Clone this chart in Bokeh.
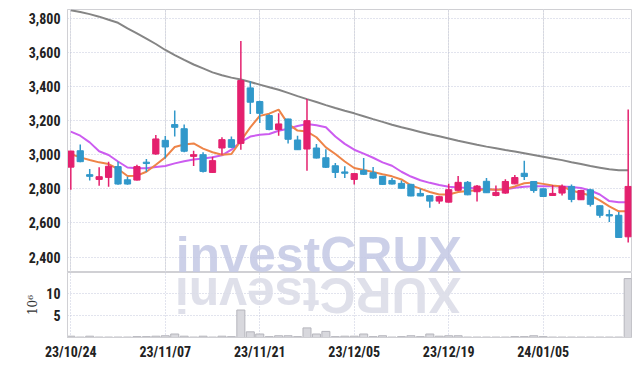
import math
from bokeh.plotting import figure
from bokeh.layouts import column
from bokeh.models import Range1d, FixedTicker, Grid, NumeralTickFormatter, Label, ColumnDataSource
from bokeh.embed import file_html
from bokeh.resources import INLINE

# ---- data ----
tick_idx = [0, 10, 20, 30, 40, 50]
tick_labels = ["23/10/24", "23/11/07", "23/11/21", "23/12/05", "23/12/19", "24/01/05"]

opens = [2927, 3023, 2883, 2855, 2867, 2930, 2853, 2851, 2955, 3004,
         3084, 3176, 3152, 2990, 3000, 2896, 3039, 3088, 3066, 3391,
         3311, 3229, 3147, 3209, 3086, 3033, 3039, 2982, 2935, 2898,
         2855, 2908, 2894, 2873, 2849, 2832, 2826, 2773, 2760, 2728,
         2722, 2791, 2838, 2783, 2844, 2761, 2775, 2829, 2891, 2843,
         2800, 2761, 2775, 2814, 2736, 2794, 2701, 2649, 2645, 2519]
highs = [3023, 3059, 2916, 2926, 2959, 2959, 2871, 2941, 2975, 3115,
         3110, 3258, 3176, 3023, 3014, 2988, 3102, 3106, 3665, 3430,
         3315, 3236, 3242, 3211, 3111, 3326, 3063, 3031, 2951, 2932,
         2889, 2980, 2928, 2875, 2863, 2849, 2830, 2801, 2762, 2756,
         2830, 2875, 2846, 2822, 2863, 2819, 2856, 2881, 2965, 2845,
         2802, 2823, 2825, 2825, 2794, 2800, 2703, 2678, 2664, 3265]
lows = [2795, 2955, 2848, 2818, 2812, 2824, 2824, 2848, 2900, 3000,
        2978, 3106, 3014, 2934, 2896, 2892, 3000, 3039, 3029, 3238,
        3186, 3143, 3111, 3066, 3027, 2906, 2977, 2922, 2863, 2863,
        2826, 2881, 2859, 2822, 2826, 2802, 2756, 2756, 2689, 2713,
        2720, 2789, 2763, 2726, 2775, 2757, 2771, 2827, 2852, 2777,
        2753, 2759, 2761, 2722, 2734, 2697, 2631, 2606, 2513, 2486]
closes = [3021, 2959, 2873, 2871, 2932, 2828, 2828, 2930, 2949, 3092,
          3045, 3160, 3020, 3000, 2902, 2965, 3088, 3043, 3434, 3307,
          3242, 3147, 3180, 3090, 3029, 3199, 2980, 2926, 2896, 2892,
          2889, 2885, 2863, 2826, 2828, 2803, 2758, 2758, 2728, 2754,
          2795, 2838, 2765, 2816, 2777, 2779, 2843, 2866, 2872, 2790,
          2755, 2773, 2814, 2738, 2790, 2709, 2645, 2641, 2515, 2814]
ma_short = [3004, 2984, 2969, 2955, 2945, 2916, 2875, 2877, 2900, 2941,
            2984, 3045, 3060, 3066, 3035, 3014, 3000, 3004, 3082, 3160,
            3227, 3240, 3264, 3180, 3141, 3135, 3102, 3043, 3004, 2960,
            2922, 2910, 2898, 2885, 2873, 2855, 2820, 2801, 2781, 2767,
            2767, 2781, 2787, 2791, 2797, 2794, 2798, 2814, 2833, 2837,
            2829, 2819, 2814, 2790, 2775, 2761, 2732, 2697, 2668, 2668]
ma_mid = [3135, 3111, 3072, 3020, 2998, 2960, 2925, 2920, 2920, 2928,
          2934, 2949, 2962, 2972, 2978, 2985, 2996, 3029, 3075, 3106,
          3117, 3121, 3140, 3152, 3168, 3180, 3172, 3160, 3106, 3063,
          3029, 3006, 2982, 2955, 2935, 2900, 2872, 2850, 2835, 2822,
          2812, 2808, 2806, 2802, 2797, 2795, 2797, 2806, 2812, 2815,
          2815, 2815, 2814, 2810, 2805, 2790, 2767, 2728, 2722, 2722]
ma_long = [3845, 3835, 3823, 3808, 3790, 3772, 3740, 3710, 3680, 3648,
           3613, 3583, 3555, 3528, 3505, 3482, 3465, 3451, 3440, 3425,
           3410, 3395, 3380, 3362, 3343, 3325, 3308, 3290, 3273, 3257,
           3242, 3225, 3208, 3192, 3175, 3160, 3147, 3133, 3120, 3108,
           3095, 3082, 3070, 3058, 3047, 3037, 3027, 3018, 3008, 2998,
           2988, 2978, 2968, 2956, 2945, 2934, 2924, 2914, 2909, 2908]
volume = [0.3, 0.1, 0.3, 0.1, 0.1, 0.1, 0.1, 0.2, 0.2, 0.3,
          0.4, 0.8, 0.3, 0.1, 0.3, 0.1, 0.3, 0.2, 6.3, 1.3,
          0.8, 0.2, 0.4, 0.4, 0.2, 2.2, 0.8, 1.4, 0.2, 0.3,
          0.3, 0.8, 0.2, 0.4, 0.1, 0.2, 0.4, 0.2, 0.8, 0.3,
          0.4, 0.4, 0.1, 0.1, 0.1, 0.1, 0.1, 0.2, 0.2, 0.4,
          0.2, 0.1, 0.1, 0.1, 0.1, 0.1, 0.1, 0.1, 0.1, 13.5]

# ---- styles ----
UP = "#e4206e"
DOWN = "#3198ca"
GRID = "#c4c8dc"
BORDER = "#d0d0d4"
FONT = "Roboto Condensed, DejaVu Sans Condensed, Liberation Sans Narrow, Roboto"

n = len(closes)
idx = list(range(n))
top, bot, col = [], [], []
for o, c in zip(opens, closes):
    t, b = max(o, c), min(o, c)
    if t - b < 8:
        m = (t + b) / 2
        t, b = m + 4, m - 4
    top.append(t)
    bot.append(b)
    col.append(UP if c >= o else DOWN)

src = ColumnDataSource(dict(x=idx, h=highs, l=lows, t=top, b=bot, c=col,
                            ms=ma_short, mm=ma_mid, ml=ma_long, v=volume))

x_range = Range1d(-0.35, 59.35)

p = figure(width=639, height=272, x_range=x_range, y_range=Range1d(2310, 3850),
           output_backend="svg", toolbar_location=None, x_axis_location=None,
           min_border_left=67, min_border_right=8, min_border_top=9, min_border_bottom=0)
p.outline_line_color = BORDER
p.yaxis.ticker = FixedTicker(ticks=[2400, 2600, 2800, 3000, 3200, 3400, 3600, 3800])
p.yaxis.formatter = NumeralTickFormatter(format="0,0")
p.yaxis.axis_line_color = BORDER
p.yaxis.major_tick_line_color = None
p.yaxis.minor_tick_line_color = None
p.yaxis.major_tick_out = 0
p.yaxis.major_tick_in = 0
p.yaxis.major_label_standoff = 7
p.yaxis.major_label_text_font = FONT
p.yaxis.major_label_text_font_size = "14px"
p.yaxis.major_label_text_font_style = "bold"
p.yaxis.major_label_text_color = "#222222"
p.ygrid.grid_line_color = GRID
p.ygrid.grid_line_dash = "1 2"
p.add_layout(Grid(dimension=0, ticker=FixedTicker(ticks=tick_idx),
                  grid_line_color=GRID, grid_line_dash="1 2"))

wm = Label(x=11.1, y=2410, text="investCRUX", text_font="Liberation Sans",
           text_font_style="bold", text_font_size="50px", text_color="#c3c8e4",
           text_alpha=0.85, text_baseline="middle", level="underlay")
p.add_layout(wm)

p.line("x", "ml", source=src, line_color="#858585", line_width=2)
p.line("x", "mm", source=src, line_color="#cc5cf0", line_width=2)
p.line("x", "ms", source=src, line_color="#ee8448", line_width=2)
p.segment(x0="x", y0="l", x1="x", y1="h", source=src, line_color="c", line_width=1.5)
p.vbar(x="x", top="t", bottom="b", width=0.66, source=src, fill_color="c", line_color="c")

v = figure(width=639, height=94, x_range=x_range, y_range=Range1d(0, 14.9),
           output_backend="svg", toolbar_location=None,
           min_border_left=67, min_border_right=8, min_border_top=0, min_border_bottom=29)
v.outline_line_color = BORDER
v.xaxis.ticker = FixedTicker(ticks=tick_idx)
v.xaxis.major_label_overrides = {i: s for i, s in zip(tick_idx, tick_labels)}
v.yaxis.ticker = FixedTicker(ticks=[5, 10])
for ax in (v.xaxis, v.yaxis):
    ax.axis_line_color = BORDER
    ax.major_tick_line_color = None
    ax.minor_tick_line_color = None
    ax.major_tick_out = 0
    ax.major_tick_in = 0
    ax.major_label_text_font = FONT
    ax.major_label_text_font_size = "14px"
    ax.major_label_text_font_style = "bold"
    ax.major_label_text_color = "#222222"
v.xaxis.major_label_standoff = 6
v.yaxis.major_label_standoff = 7
v.yaxis.axis_label = "10⁶"
v.yaxis.axis_label_text_font = "DejaVu Serif"
v.yaxis.axis_label_text_font_style = "normal"
v.yaxis.axis_label_text_font_size = "12px"
v.yaxis.axis_label_text_color = "#333333"
v.yaxis.axis_label_standoff = 3
v.xgrid.grid_line_color = GRID
v.xgrid.grid_line_dash = "1 2"
v.ygrid.grid_line_color = GRID
v.ygrid.grid_line_dash = "1 2"

refl = Label(x=41.3, y=9.7, text="XURCtsevni", angle=math.pi, text_font="Liberation Sans",
             text_font_style="bold", text_font_size="50px", text_color="#dcdde8",
             text_alpha=0.9, text_baseline="middle", level="underlay")
v.add_layout(refl)

v.vbar(x="x", top="v", width=0.85, source=src, fill_color="#d8d8dd", line_color="#b5b5bc")

layout = column(p, v, spacing=0)
open("out.html", "w").write(file_html(layout, INLINE))
